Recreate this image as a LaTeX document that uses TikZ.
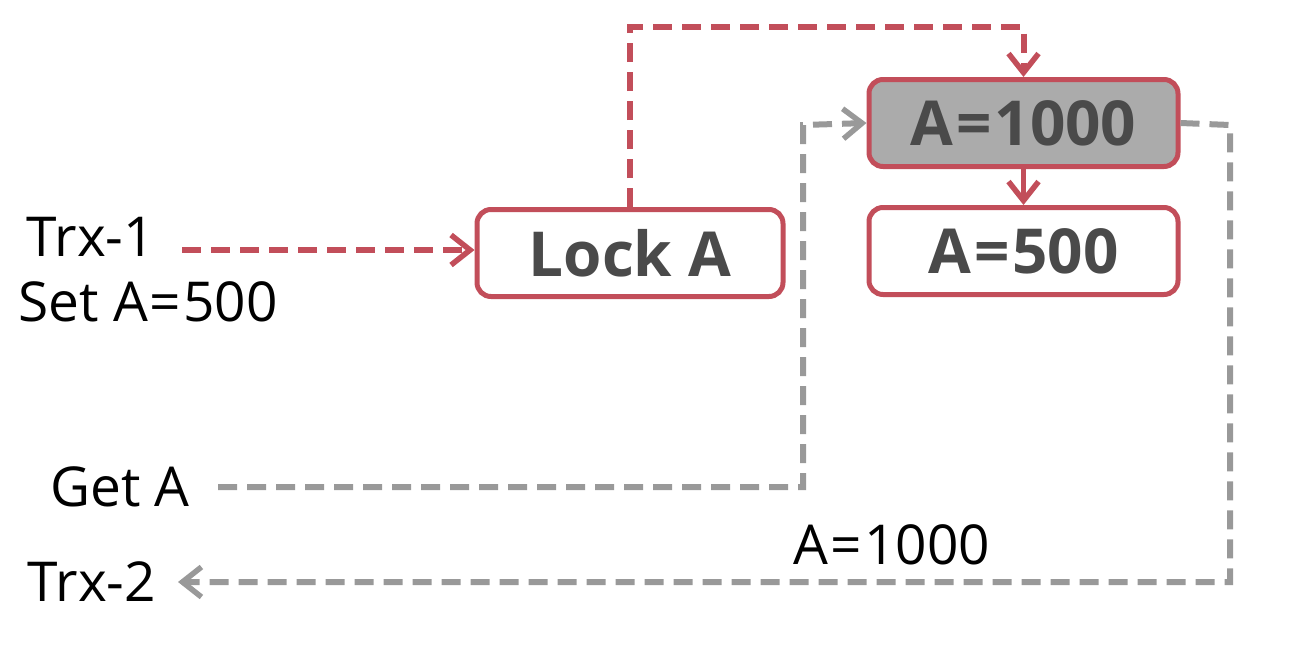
\documentclass[tikz,border=0pt]{standalone}
\usepackage{fontspec}
\setmainfont{Open Sans}
\usetikzlibrary{arrows.meta}
\definecolor{lockred}{HTML}{C24E5A}
\definecolor{dashgray}{HTML}{999999}
\definecolor{boxtext}{HTML}{4A4A4A}
\definecolor{boxfill}{HTML}{ABABAB}
\newcommand{\eqs}{\hspace{3pt}=\hspace{3pt}}
\tikzset{
  box/.style={draw=lockred, line width=5pt, rounded corners=14pt, minimum width=306pt, minimum height=87pt, inner sep=0pt, font=\fontsize{62}{68}\selectfont\bfseries, text=boxtext, fill=white},
  lbl/.style={font=\fontsize{55}{60}\selectfont, text=black, inner sep=0pt},
  reddash/.style={draw=lockred, line width=6pt, dash pattern=on 19pt off 10pt},
  graydash/.style={draw=dashgray, line width=6pt, dash pattern=on 19pt off 10pt},
  tip/.style={-{Straight Barb[length=19pt,width=30pt,line width=5.5pt]}}
}
\begin{document}
\begin{tikzpicture}[x=1pt,y=-1pt]
\useasboundingbox (0,0) rectangle (1310,662);
\node[box] (lock) at (630,253) {Lock A};
\node[box, fill=boxfill, minimum width=309pt] (hi) at (1023.5,123) {A\eqs1000};
\node[box, minimum width=309pt] (lo) at (1023.5,251) {A\eqs500};
\node[lbl] (t1) at (91,237) {Trx-1};
\node[lbl] (set) at (148,302) {Set A\hspace{2pt}=\hspace{2pt}500};
\node[lbl] (get) at (120,487) {Get A};
\node[lbl] (t2) at (92,582) {Trx-2};
\node[lbl] (ret) at (892,545) {A\hspace{2pt}=\hspace{2pt}1000};
\coordinate (s1) at (182,250);
\coordinate (top) at (630,27);
\coordinate (s2) at (218,487);
\coordinate (up) at (803,125);
\coordinate (rt) at (1230,125);
\coordinate (e2) at (178,582);
\draw[reddash, tip] (s1) -- (lock.west |- s1);
\draw[reddash, tip] (lock.north) -- (top) -| (hi.north);
\draw[draw=lockred, line width=5pt, tip] (hi.south) -- (lo.north);
\draw[graydash, tip] (s2) -| (up) -- (hi.west);
\draw[graydash, tip] (hi.east) -- (rt) |- (e2);
\end{tikzpicture}
\end{document}
